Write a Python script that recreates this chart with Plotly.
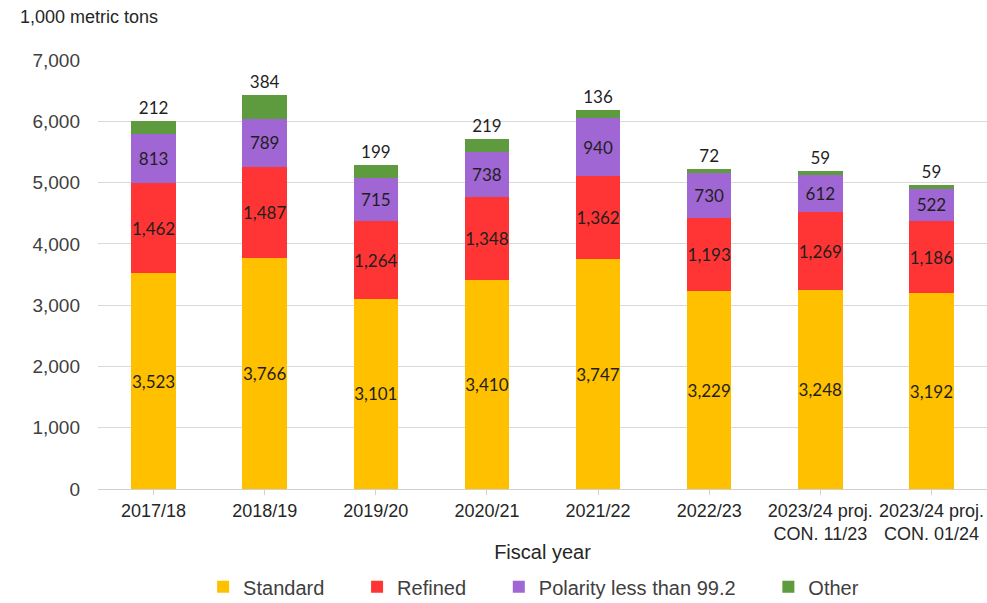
import plotly.graph_objects as go

years = ["2017/18", "2018/19", "2019/20", "2020/21", "2021/22", "2022/23",
         "2023/24 proj.<br>CON. 11/23", "2023/24 proj.<br>CON. 01/24"]
standard = [3523, 3766, 3101, 3410, 3747, 3229, 3248, 3192]
refined = [1462, 1487, 1264, 1348, 1362, 1193, 1269, 1186]
polarity = [813, 789, 715, 738, 940, 730, 612, 522]
other = [212, 384, 199, 219, 136, 72, 59, 59]

NB = "\u00a0"
series = [
    ("Standard" + NB * 5, standard, "#FFC000"),
    ("Refined" + NB * 5, refined, "#FF3535"),
    ("Polarity less than 99.2" + NB * 5, polarity, "#A066D3"),
    ("Other", other, "#5E9B3F"),
]

label_font = dict(family="Lato, Noto Sans, sans-serif", size=17, color="#1f1f1f")

fig = go.Figure()
for i, (name, vals, color) in enumerate(series):
    is_top = i == len(series) - 1
    fig.add_trace(go.Bar(
        x=years, y=vals, name=name,
        marker=dict(color=color, line=dict(width=0)),
        text=[f"{v:,}" for v in vals],
        textposition="outside" if is_top else "inside",
        insidetextanchor="middle",
        constraintext="none",
        textangle=0,
        textfont=label_font,
        outsidetextfont=label_font,
        insidetextfont=label_font,
        cliponaxis=False,
        width=0.4,
    ))

fig.update_layout(
    barmode="stack",
    width=987, height=603,
    margin=dict(l=98, r=0, t=60, b=114, autoexpand=False),
    paper_bgcolor="white", plot_bgcolor="white",
    font=dict(family="Liberation Sans, Arial, sans-serif", size=18, color="#404040"),
    showlegend=True,
    legend=dict(orientation="h", x=0.49, xanchor="center",
                yref="container", y=0.027, yanchor="middle",
                font=dict(size=20, color="#404040"), traceorder="normal"),
    yaxis=dict(range=[0, 7000], tickvals=list(range(0, 7001, 1000)),
               tickformat=",d", gridcolor="#d9d9d9", gridwidth=1,
               zeroline=False, showline=False, ticks="", ticklabelstandoff=17,
               tickfont=dict(size=19, color="#404040")),
    xaxis=dict(showline=True, linecolor="#d0d0d0", linewidth=1,
               ticks="outside", ticklen=5, tickcolor="#d0d0d0",
               tickfont=dict(size=18, color="#262626"),
               title=dict(text="Fiscal year", font=dict(size=20, color="#262626"), standoff=1)),
    bargap=0.6,
    annotations=[dict(text="1,000 metric tons", xref="paper", yref="paper",
                      x=-0.09, y=1.0, xanchor="left", yanchor="bottom", yshift=31,
                      showarrow=False, font=dict(size=18, color="#262626"))],
)

fig.write_html("out.html")
